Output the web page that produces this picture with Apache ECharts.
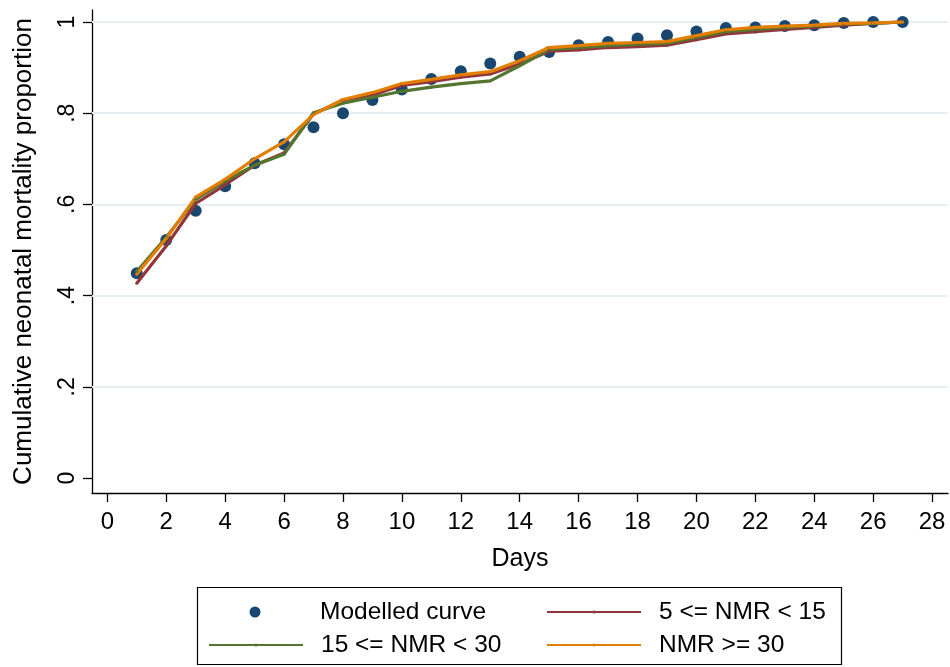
<!DOCTYPE html>
<html>
<head>
<meta charset="utf-8">
<script src="https://cdn.jsdelivr.net/npm/echarts@6/dist/echarts.min.js"></script>
<style>html,body{margin:0;padding:0;background:#fff;}#c{width:950px;height:667px;}</style>
</head>
<body>
<div id="c"></div>
<script>
const days = [1,2,3,4,5,6,7,8,9,10,11,12,13,14,15,16,17,18,19,20,21,22,23,24,25,26,27];
const modelled = [0.449,0.522,0.586,0.640,0.690,0.732,0.769,0.800,0.829,0.852,0.875,0.892,0.909,0.924,0.934,0.949,0.956,0.964,0.971,0.979,0.987,0.988,0.991,0.993,0.998,1.0,1.0];
const nmr5to15 = [0.427,0.509,0.602,0.643,0.686,0.713,0.798,0.829,0.840,0.861,0.869,0.879,0.886,0.908,0.936,0.939,0.944,0.946,0.949,0.961,0.974,0.979,0.984,0.988,0.993,0.997,1.0];
const nmr15to30 = [0.453,0.528,0.611,0.651,0.686,0.710,0.801,0.822,0.835,0.848,0.857,0.865,0.871,0.904,0.940,0.944,0.948,0.951,0.953,0.966,0.979,0.984,0.988,0.991,0.996,0.997,1.0];
const nmr30plus = [0.447,0.525,0.616,0.655,0.700,0.737,0.797,0.830,0.845,0.865,0.874,0.884,0.891,0.915,0.944,0.948,0.953,0.955,0.957,0.970,0.983,0.988,0.991,0.993,0.997,0.998,1.0];
const xTicks = [0,2,4,6,8,10,12,14,16,18,20,22,24,26,28];
const yTicks = [0,0.2,0.4,0.6,0.8,1];
const yGrid = [0.2,0.4,0.6,0.8,1];
const seriesNames = ['Modelled curve','5 <= NMR < 15','15 <= NMR < 30','NMR >= 30'];

const FONT = '"Liberation Sans", Arial, sans-serif';
const pair = arr => days.map((d,i)=>[d, arr[i]]);

const chart = echarts.init(document.getElementById('c'), null, {renderer:'canvas'});
const lineSeries = (name, data, color) => ({
  name, type:'line', data: pair(data),
  symbol:'circle', symbolSize:3, showSymbol:true,
  lineStyle:{color, width:3.2}, itemStyle:{color},
  z:3
});
const legendText = {fontFamily:FONT, fontSize:24.5, color:'#000', lineHeight:28, padding:[0,0,0,13]};
chart.setOption({
  animation:false,
  backgroundColor:'#fff',
  grid:{left:92, right:2, top:10, bottom:174},
  xAxis:{
    type:'value', min:-0.52, max:28.54,
    name:'Days', nameLocation:'middle', nameGap:54,
    nameTextStyle:{fontFamily:FONT, fontSize:25, color:'#000'},
    axisLine:{show:true, onZero:false, lineStyle:{color:'#000', width:1.3}},
    axisTick:{show:true, length:9, customValues:xTicks, lineStyle:{color:'#000', width:1.3}},
    axisLabel:{customValues:xTicks, fontFamily:FONT, fontSize:24, color:'#000', margin:17},
    splitLine:{show:false}
  },
  yAxis:{
    type:'value', min:-0.0329, max:1.0263,
    name:'Cumulative neonatal mortality proportion', nameLocation:'middle', nameGap:55,
    nameTextStyle:{fontFamily:FONT, fontSize:26, color:'#000'},
    axisLine:{show:true, onZero:false, lineStyle:{color:'#000', width:1.3}},
    axisTick:{show:true, length:9, customValues:yTicks, lineStyle:{color:'#000', width:1.3}},
    axisLabel:{customValues:yTicks, rotate:90, fontFamily:FONT, fontSize:23, color:'#000', margin:13,
      formatter: v => (v===0?'0':(v===1?'1':String(+v.toFixed(1)).replace(/^0/,'')))},
    splitLine:{show:false}
  },
  legend:[
    {data:[seriesNames[0]], orient:'vertical', left:249.5, top:598, itemWidth:94, itemHeight:11, itemGap:5, padding:0, textStyle:legendText},
    {data:[seriesNames[2]], orient:'vertical', left:208, top:631, itemWidth:94, itemHeight:4, itemGap:5, padding:0, textStyle:legendText},
    {data:[seriesNames[1], seriesNames[3]], orient:'vertical', left:546, top:598, itemWidth:94, itemHeight:4, itemGap:5, padding:0, textStyle:legendText}
  ],
  graphic:[{type:'rect', shape:{x:197.5, y:587.5, width:644, height:77}, style:{fill:'none', stroke:'#000', lineWidth:1.2}, silent:true}],
  series:[
    {name:seriesNames[0], type:'scatter', data:pair(modelled), symbol:'circle', symbolSize:12,
     itemStyle:{color:'#1a476f', opacity:1}, z:2,
     markLine:{silent:true, symbol:'none', label:{show:false},
       lineStyle:{color:'#e6eef1', width:2, type:'solid'},
       data: yGrid.map(v=>({yAxis:v})), z:1}},
    lineSeries(seriesNames[1], nmr5to15, '#90353b'),
    lineSeries(seriesNames[2], nmr15to30, '#55752f'),
    lineSeries(seriesNames[3], nmr30plus, '#e37e00')
  ]
});
</script>
</body>
</html>
